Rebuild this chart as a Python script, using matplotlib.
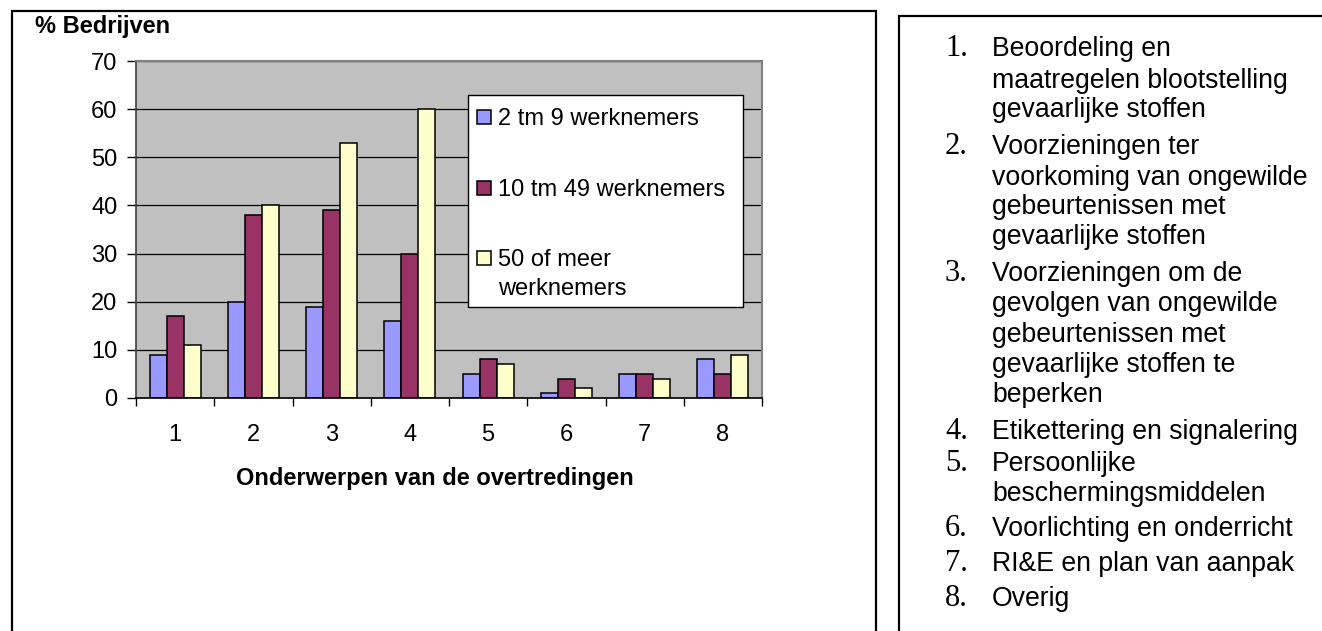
import matplotlib
matplotlib.use("Agg")
import matplotlib.pyplot as plt
from matplotlib.patches import Rectangle
import numpy as np

# ---------------- data ----------------
categories = ["1", "2", "3", "4", "5", "6", "7", "8"]
series_names = ["2 tm 9 werknemers", "10 tm 49 werknemers", "50 of meer\nwerknemers"]
small = [9, 20, 19, 16, 5, 1, 5, 8]
medium = [17, 38, 39, 30, 8, 4, 5, 5]
large = [11, 40, 53, 60, 7, 2, 4, 9]
y_ticks = [0, 10, 20, 30, 40, 50, 60, 70]
y_label = "% Bedrijven"
x_label = "Onderwerpen van de overtredingen"
topic_numbers = ["1.", "2.", "3.", "4.", "5.", "6.", "7.", "8."]
topic_lines = [
    ["Beoordeling en", "maatregelen blootstelling", "gevaarlijke stoffen"],
    ["Voorzieningen ter", "voorkoming van ongewilde", "gebeurtenissen met", "gevaarlijke stoffen"],
    ["Voorzieningen om de", "gevolgen van ongewilde", "gebeurtenissen met",
     "gevaarlijke stoffen te", "beperken"],
    ["Etikettering en signalering"],
    ["Persoonlijke", "beschermingsmiddelen"],
    ["Voorlichting en onderricht"],
    ["RI&E en plan van aanpak"],
    ["Overig"],
]

colors = ["#9999FF", "#993366", "#FFFFCC"]
W, H = 1322, 631
SANS = "Liberation Sans"
SERIF = "Liberation Serif"

fig = plt.figure(figsize=(W / 100, H / 100), dpi=100)
fig.patch.set_facecolor("white")


def fx(px):
    return px / W


def fy(py):
    return 1 - py / H


# outer boxes
fig.patches.append(Rectangle((fx(12), fy(640)), fx(876) - fx(12), fy(11) - fy(640),
                             transform=fig.transFigure, fill=False, edgecolor="black",
                             linewidth=1.6, zorder=0))
fig.patches.append(Rectangle((fx(899), fy(640)), fx(1340) - fx(899), fy(15.5) - fy(640),
                             transform=fig.transFigure, fill=False, edgecolor="black",
                             linewidth=1.6, zorder=0))

# plot axes
L, R, T, B = 136, 762, 61, 398
ax = fig.add_axes([fx(L), fy(B), fx(R) - fx(L), fy(T) - fy(B)])
ax.set_facecolor("#C0C0C0")

x = np.arange(len(categories))
w = 0.217
for k, (vals, c) in enumerate(zip([small, medium, large], colors)):
    ax.bar(x + (k - 1) * w, vals, width=w, color=c, edgecolor="black",
           linewidth=1.1, zorder=3)

ax.set_xlim(-0.5, len(categories) - 0.5)
ax.set_ylim(0, 70)
ax.set_yticks(y_ticks)
ax.set_yticklabels([str(v) for v in y_ticks], fontfamily=SANS, fontsize=17)
ax.yaxis.grid(True, color="black", linewidth=0.9, zorder=1)
ax.set_axisbelow(True)

ax.set_xticks(x)
ax.set_xticklabels(categories, fontfamily=SANS, fontsize=17)
ax.set_xticks(np.arange(-0.5, len(categories)), minor=True)
ax.tick_params(axis="x", which="major", length=0, pad=19)
ax.tick_params(axis="x", which="minor", length=6, width=1.0, direction="out", color="black")
ax.tick_params(axis="y", which="major", length=6.5, width=1.0, direction="out", pad=7,
               color="black")

for side in ["top", "right"]:
    ax.spines[side].set_color("#808080")
    ax.spines[side].set_linewidth(1.5)
ax.spines["left"].set_color("#404040")
ax.spines["left"].set_linewidth(1.2)
ax.spines["bottom"].set_color("black")
ax.spines["bottom"].set_linewidth(1.2)
ax.spines["bottom"].set_zorder(4)

# axis labels
ax.set_xlabel(x_label, fontfamily=SANS, fontsize=17, fontweight="bold", va="center")
ax.xaxis.set_label_coords((435 - L) / (R - L), (B - 478) / (B - T))
ax.set_ylabel(y_label, fontfamily=SANS, fontsize=17, fontweight="bold", rotation=0,
              ha="left", va="center")
ax.yaxis.set_label_coords((35 - L) / (R - L), (B - 26) / (B - T))


def axx(px):
    return (px - L) / (R - L)


def axy(py):
    return (B - py) / (B - T)


# legend (manual, to mimic the original layout)
ax.add_patch(Rectangle((axx(468), axy(307)), axx(743) - axx(468), axy(95) - axy(307),
                       transform=ax.transAxes, facecolor="white", edgecolor="black",
                       linewidth=1.0, zorder=6, clip_on=False))
entry_y = [117, 188, 258]
for name, c, cy in zip(series_names, colors, entry_y):
    ax.add_patch(Rectangle((axx(477), axy(cy + 7)), axx(491) - axx(477), axy(cy - 7) - axy(cy + 7),
                           transform=ax.transAxes, facecolor=c, edgecolor="black",
                           linewidth=1.1, zorder=7, clip_on=False))
    for i, part in enumerate(name.split("\n")):
        ax.text(axx(498), axy(cy + 8 + 29 * i), part, transform=ax.transAxes, fontfamily=SANS,
                fontsize=17, ha="left", va="baseline", zorder=8)

# right-hand panel with topic descriptions
line_centers = [47, 79, 108, 145, 176, 205, 235, 272, 302, 333, 363, 393,
                430, 462, 492, 527, 562, 597]
idx = 0
for num, lines in zip(topic_numbers, topic_lines):
    for j, line in enumerate(lines):
        base = line_centers[idx] + 9
        if j == 0:
            fig.text(fx(945), fy(base), num, fontfamily=SERIF, fontsize=22,
                     ha="left", va="baseline")
        fig.text(fx(992), fy(base), line, fontfamily=SANS, fontsize=19.2,
                 ha="left", va="baseline")
        idx += 1

fig.savefig("out.png", dpi=100)
